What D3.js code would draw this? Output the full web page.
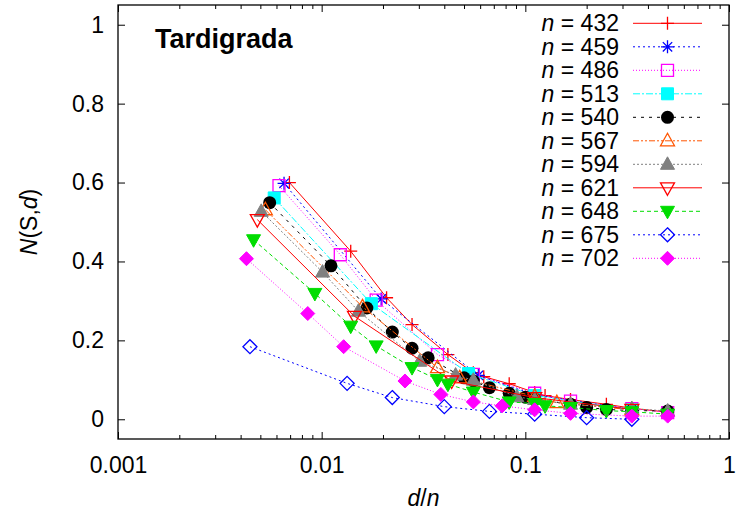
<!DOCTYPE html>
<html><head><meta charset="utf-8">
<script src="https://cdn.jsdelivr.net/npm/d3@7"></script>
<style>
body{margin:0;background:#fff;}
text{font-family:"Liberation Sans",Arial,sans-serif;}
</style></head>
<body><svg id="c" width="738" height="515"></svg>
<script>
// ---- data (d values are sizes, x = d/n) ----
const sizes = [432,459,486,513,540,567,594,621,648,675,702];
const d432 = [3,6,9,12,18,24,27,36,48,54,72,108,144,216];
const y432 = [0.600,0.426,0.308,0.240,0.164,0.118,0.108,0.090,0.068,0.060,0.050,0.038,0.028,0.018];
const d459 = [3,9,27,51,153];
const y459 = [0.598,0.305,0.111,0.062,0.025];
const d486 = [3,6,9,18,27,54,81,162,243];
const y486 = [0.592,0.417,0.302,0.164,0.114,0.066,0.046,0.027,0.017];
const d513 = [3,9,27,57,171];
const y513 = [0.561,0.293,0.116,0.060,0.024];
const d540 = [3,6,9,12,15,18,27,30,36,45,54,60,90,108,135,180,270];
const y540 = [0.549,0.389,0.282,0.221,0.180,0.156,0.105,0.097,0.080,0.066,0.056,0.052,0.038,0.030,0.025,0.022,0.021];
const d567 = [3,9,21,27,63,81,189];
const y567 = [0.531,0.285,0.131,0.105,0.058,0.042,0.024];
const d594 = [3,6,9,18,27,33,54,66,99,198,297];
const y594 = [0.527,0.373,0.274,0.147,0.112,0.099,0.057,0.050,0.038,0.027,0.021];
const d621 = [3,9,27,69,207];
const y621 = [0.506,0.261,0.097,0.055,0.025];
const d648 = [3,6,9,12,18,24,27,36,54,72,81,108,162,216,324];
const y648 = [0.455,0.319,0.236,0.186,0.131,0.101,0.089,0.069,0.044,0.040,0.034,0.030,0.022,0.019,0.013];
const d675 = [3,9,15,27,45,75,135,225];
const y675 = [0.184,0.091,0.055,0.032,0.020,0.013,0.004,0.000];
const d702 = [3,6,9,18,27,39,54,78,117,234,351];
const y702 = [0.407,0.268,0.184,0.097,0.063,0.044,0.034,0.024,0.015,0.008,0.008];

const xTickVals = [0.001,0.01,0.1,1];
const xTickLabels = ["0.001","0.01","0.1","1"];
const yTickVals = [0,0.2,0.4,0.6,0.8,1];
const yTickLabels = ["0","0.2","0.4","0.6","0.8","1"];
const title = "Tardigrada";

// styles
const colors = ["#ff0000","#0000ff","#ff00ff","#00ffff","#000000","#ff5500","#808080","#ff0000","#00dd00","#0000ff","#ff00ff"];
const dashes = [null,"2,3","1,2","7,2,2,2","3,5","6,2,2,2,2,2","2,2",null,"4,3","2,3","1,2"];
const markers = ["plus","star","squareO","squareF","circle","triUpO","triUpF","triDnO","triDnF","diamondO","diamondF"];

const dList = [d432,d459,d486,d513,d540,d567,d594,d621,d648,d675,d702];
const yList = [y432,y459,y486,y513,y540,y567,y594,y621,y648,y675,y702];
const series = sizes.map((n,i)=>({n, color:colors[i], dash:dashes[i], marker:markers[i],
  pts: dList[i].map((d,j)=>({x:d/n, y:yList[i][j]}))}));

const L=118, R=729, T=5, B=439;
const svg = d3.select("#c");
const x = d3.scaleLog().domain([0.001,1]).range([L,R]);
const y = d3.scaleLinear().domain([-0.05,1.05]).range([B,T]);

// axes
const fs = 23;
svg.append("g").attr("transform",`translate(${L},0)`)
  .call(d3.axisLeft(y).tickValues(yTickVals).tickFormat((d,i)=>yTickLabels[i]).tickSizeInner(-7).tickSizeOuter(0).tickPadding(14));
svg.append("g").attr("transform",`translate(${R},0)`)
  .call(d3.axisRight(y).tickValues(yTickVals).tickFormat("").tickSizeInner(-7).tickSizeOuter(0));
const minor = [];
for (let e=-3;e<0;e++) for (let k=2;k<10;k++) minor.push(k*Math.pow(10,e));
svg.append("g").attr("transform",`translate(0,${B})`)
  .call(d3.axisBottom(x).tickValues(xTickVals).tickFormat((d,i)=>xTickLabels[i]).tickSizeInner(-7).tickSizeOuter(0).tickPadding(18));
svg.append("g").attr("transform",`translate(0,${B})`)
  .call(d3.axisBottom(x).tickValues(minor).tickFormat("").tickSizeInner(-4).tickSizeOuter(0));
svg.append("g").attr("transform",`translate(0,${T})`)
  .call(d3.axisTop(x).tickValues(xTickVals).tickFormat("").tickSizeInner(-7).tickSizeOuter(0));
svg.append("g").attr("transform",`translate(0,${T})`)
  .call(d3.axisTop(x).tickValues(minor).tickFormat("").tickSizeInner(-4).tickSizeOuter(0));
svg.selectAll(".domain").remove();
svg.selectAll(".tick line").attr("stroke","#000").attr("stroke-width",1);
svg.selectAll(".tick text").attr("font-size",fs).attr("fill","#000").attr("font-family","Liberation Sans, Arial, sans-serif");

// frame
svg.append("rect").attr("x",L).attr("y",T).attr("width",R-L).attr("height",B-T)
  .attr("fill","none").attr("stroke","#000").attr("stroke-width",1.3);

// axis titles
const xl = svg.append("text").attr("x",(L+R)/2).attr("y",506).attr("text-anchor","middle").attr("font-size",fs);
xl.append("tspan").attr("font-style","italic").text("d");
xl.append("tspan").text("/");
xl.append("tspan").attr("font-style","italic").text("n");
const yl = svg.append("text").attr("transform",`translate(37,222) rotate(-90)`).attr("text-anchor","middle").attr("font-size",fs);
yl.append("tspan").attr("font-style","italic").text("N");
yl.append("tspan").text("(S,");
yl.append("tspan").attr("font-style","italic").text("d");
yl.append("tspan").text(")");

// title
svg.append("text").attr("x",155).attr("y",48).attr("font-size",27).attr("font-weight","bold").text(title);

// marker paths
function mpath(type){
  const s=6.5;
  switch(type){
    case "plus": return `M${-s},0H${s}M0,${-s}V${s}`;
    case "star": {const a=s*0.72; return `M${-s},0H${s}M0,${-s}V${s}M${-a},${-a}L${a},${a}M${-a},${a}L${a},${-a}`;}
    case "squareO": case "squareF": return `M${-6},${-6}h12v12h-12Z`;
    case "triUpO": case "triUpF": return `M0,${-7.5}L7,${5}L-7,${5}Z`;
    case "triDnO": case "triDnF": return `M0,${7.5}L7,${-5}L-7,${-5}Z`;
    case "diamondO": case "diamondF": return `M0,-7L7,0L0,7L-7,0Z`;
  }
}
function drawMarker(g, type, color, cx, cy){
  if (type==="circle"){
    g.append("circle").attr("cx",cx).attr("cy",cy).attr("r",6.5).attr("fill",color);
    return;
  }
  const filled = type.endsWith("F");
  const open = type.endsWith("O") || type==="plus" || type==="star";
  g.append("path").attr("d",mpath(type)).attr("transform",`translate(${cx},${cy})`)
    .attr("fill", filled?color:"none").attr("stroke",color).attr("stroke-width", open?1.3:1);
}

const line = d3.line().x(d=>x(d.x)).y(d=>y(d.y));
series.forEach(s=>{
  const g = svg.append("g");
  g.append("path").attr("d",line(s.pts)).attr("fill","none").attr("stroke",s.color)
    .attr("stroke-width",1).attr("stroke-dasharray",s.dash);
  s.pts.forEach(p=>drawMarker(g,s.marker,s.color,x(p.x),y(p.y)));
});

// legend
const lg = svg.append("g");
series.forEach((s,i)=>{
  const cy = 23.3 + i*23.5;
  const t = lg.append("text").attr("x",619).attr("y",cy+8).attr("text-anchor","end").attr("font-size",fs);
  t.append("tspan").attr("font-style","italic").text("n");
  t.append("tspan").text(" = " + s.n);
  lg.append("line").attr("x1",633).attr("x2",702).attr("y1",cy).attr("y2",cy)
    .attr("stroke",s.color).attr("stroke-width",1).attr("stroke-dasharray",s.dash);
  drawMarker(lg,s.marker,s.color,667.5,cy);
});
</script></body></html>
